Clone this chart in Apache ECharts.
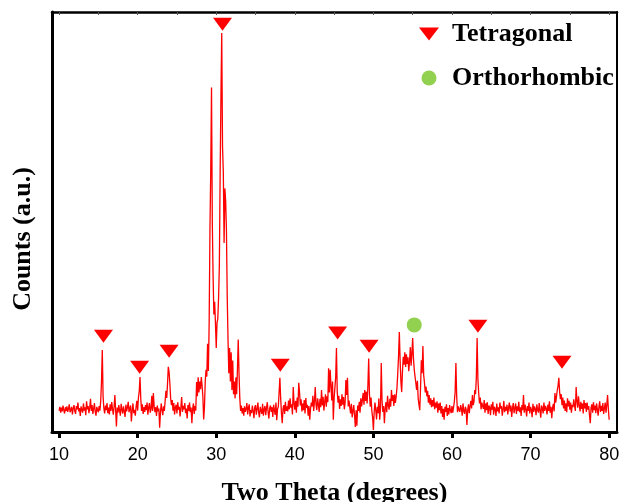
<!DOCTYPE html>
<html>
<head>
<meta charset="utf-8">
<script src="https://cdn.jsdelivr.net/npm/echarts@6/dist/echarts.min.js"></script>
<style>html,body{margin:0;padding:0;background:#fff}#c{width:620px;height:502px}</style>
</head>
<body>
<div id="c"></div>
<script>
// Sampling of the scan: 2θ from 10.0 to 80.0 in 0.1° steps
const scanStart = 10.0;
const scanStep = 0.1;
// Counts (arbitrary units), one row per degree (x.0 ... x.9)
const counts = [
  5.1,6.0,4.6,5.8,4.9,6.3,5.2,4.4,5.9,5.0,      // 10
  6.1,4.8,5.5,6.6,4.7,5.3,6.0,4.2,5.6,6.4,      // 11
  5.0,4.3,6.2,5.4,7.0,4.9,5.7,3.8,6.1,5.2,      // 12
  4.6,6.8,5.1,5.9,4.0,7.3,5.4,6.2,4.5,5.8,      // 13
  7.9,5.0,6.4,4.3,5.6,6.9,4.8,3.9,6.0,5.3,      // 14
  4.7,6.2,5.1,7.4,12.0,19.5,8.5,5.6,4.4,6.3,    // 15
  5.2,6.9,4.5,5.8,4.2,6.6,5.0,7.1,5.5,4.1,      // 16
  6.0,8.8,5.2,1.3,5.8,4.6,6.4,5.1,3.9,6.7,      // 17
  5.4,4.4,6.1,5.7,3.6,6.5,4.9,5.9,7.2,4.7,      // 18
  5.6,6.3,2.5,5.0,6.8,4.5,5.3,3.9,6.0,7.4,      // 19
  5.1,8.2,9.6,13.1,7.8,5.0,6.6,4.3,5.9,4.8,     // 20
  6.4,5.2,7.0,4.1,5.8,6.9,4.6,5.5,8.6,5.0,      // 21
  9.3,6.1,4.7,5.9,3.8,6.3,4.9,5.6,1.0,4.6,      // 22
  6.8,5.2,4.0,6.1,5.0,7.5,9.8,8.1,11.4,15.5,    // 23
  14.3,11.5,8.0,6.4,7.6,5.1,6.9,4.2,5.8,6.5,    // 24
  4.4,7.1,5.3,6.0,3.7,5.9,8.3,4.8,6.2,5.4,      // 25
  6.9,4.5,5.6,3.2,6.4,5.0,7.0,4.7,5.8,2.1,      // 26
  5.5,6.8,4.3,6.2,5.1,11.9,8.5,13.0,9.4,12.0,   // 27
  10.2,13.1,11.0,8.4,3.0,5.8,12.0,14.8,13.2,21.0, // 28
  14.5,26.0,48.0,62.0,82.0,50.0,37.0,28.0,31.0,26.0, // 29
  20.0,26.0,27.0,32.0,40.0,62.0,80.0,95.0,68.0,62.0, // 30
  45.0,58.0,55.0,48.0,32.0,22.0,14.0,20.0,12.0,19.0, // 31
  10.0,17.0,9.0,12.0,8.0,13.0,9.0,15.0,22.0,14.0,    // 32
  8.0,5.0,6.3,4.4,5.7,3.9,6.1,4.8,5.5,6.9,      // 33
  4.2,5.8,6.6,3.7,5.2,4.5,6.3,5.0,3.3,5.9,      // 34
  6.4,4.1,5.5,7.0,4.6,3.5,6.0,5.1,4.3,6.7,      // 35
  3.9,5.4,6.2,4.0,5.8,7.1,4.7,3.2,5.6,6.3,      // 36
  4.8,5.9,3.6,6.5,5.2,4.1,7.0,2.8,5.5,6.0,      // 37
  9.4,12.9,8.0,4.5,2.1,5.6,6.4,4.3,7.2,5.0,     // 38
  6.1,4.9,7.5,5.4,8.0,5.8,6.6,4.2,10.7,6.9,     // 39
  5.3,7.4,4.6,8.2,6.0,11.7,9.5,6.3,7.8,4.9,     // 40
  6.8,5.2,7.6,4.4,8.1,5.7,6.5,3.9,6.2,2.9,      // 41
  5.5,7.0,6.1,8.6,5.0,7.3,10.7,6.4,5.2,8.0,     // 42
  6.6,4.8,7.9,5.9,10.0,6.3,8.4,5.1,7.2,9.0,     // 43
  6.0,8.5,7.1,15.2,9.4,14.8,11.0,7.5,12.0,2.9,  // 44
  8.0,10.5,13.0,20.0,9.5,7.0,8.6,5.5,7.8,6.2,   // 45
  9.0,6.5,8.3,5.4,7.0,12.4,8.8,12.9,6.1,7.5,    // 46
  5.8,4.4,6.7,3.5,5.0,6.4,4.0,1.2,5.2,1.5,      // 47
  6.3,5.0,7.2,4.6,8.0,6.1,7.7,9.3,6.5,10.0,     // 48
  7.4,9.6,6.8,11.0,17.5,9.0,6.0,8.2,5.1,3.5,    // 49
  0.5,4.8,7.0,5.2,3.0,6.0,4.5,8.0,2.9,5.6,      // 50
  16.4,7.5,4.8,6.2,2.1,5.5,7.1,4.7,8.6,6.4,     // 51
  5.3,7.9,6.0,10.0,7.4,8.8,6.2,9.0,6.9,8.5,     // 52
  10.5,14.0,18.0,23.8,17.1,12.0,9.5,14.5,17.9,16.0, // 53
  19.0,15.5,18.5,16.2,17.8,14.5,16.8,20.2,15.8,18.6, // 54
  22.4,17.5,14.8,13.2,11.7,10.0,12.2,8.0,6.5,5.2,   // 55
  10.5,17.1,14.0,20.5,13.5,11.7,9.4,10.8,8.5,9.8,   // 56
  7.0,8.8,6.5,8.0,5.9,7.6,6.1,8.2,5.4,7.0,      // 57
  5.8,7.3,4.6,6.8,5.2,7.0,4.4,6.2,3.6,5.5,      // 58
  2.9,6.0,4.8,6.6,3.8,5.7,4.2,6.4,5.1,4.5,      // 59
  6.2,4.6,5.9,7.2,9.5,16.4,8.5,4.7,6.1,5.3,     // 60
  4.8,6.4,5.6,3.9,6.8,5.0,4.3,6.0,5.4,1.7,      // 61
  5.2,6.6,4.5,6.1,7.4,5.6,8.8,6.4,7.2,10.0,     // 62
  9.0,13.0,22.4,12.5,9.3,6.8,8.2,5.4,7.0,6.2,   // 63
  5.5,7.6,4.6,6.8,5.2,7.1,4.3,6.3,5.8,4.0,      // 64
  6.6,5.3,7.2,4.1,6.0,5.5,3.8,6.8,4.9,5.9,      // 65
  4.4,7.0,5.6,6.2,3.9,5.4,7.4,4.7,6.0,5.1,      // 66
  6.5,4.2,5.8,7.0,4.9,6.3,3.6,5.7,6.9,4.5,      // 67
  5.6,6.8,4.3,6.1,5.0,7.2,4.7,5.9,3.8,6.4,      // 68
  5.2,8.8,4.6,6.5,5.4,3.7,6.2,5.0,7.0,4.4,      // 69
  6.0,5.3,3.5,6.7,4.8,6.1,5.5,4.0,6.6,5.2,      // 70
  4.6,6.9,5.1,3.4,6.3,5.7,4.4,7.0,5.0,6.2,      // 71
  5.6,4.2,6.5,5.0,7.3,4.6,6.0,3.3,5.8,6.7,      // 72
  4.9,9.3,7.0,8.4,10.0,11.0,12.9,9.5,7.8,9.0,   // 73
  6.4,8.2,5.6,7.5,5.0,6.8,4.7,8.0,6.1,7.4,      // 74
  5.3,7.0,4.6,6.5,5.9,7.8,6.2,5.0,10.7,7.4,     // 75
  5.8,8.5,6.4,4.9,7.2,5.5,6.8,4.4,7.6,5.6,      // 76
  6.9,4.8,7.0,5.3,6.2,4.0,2.1,5.8,6.6,4.6,      // 77
  7.1,5.2,6.3,4.5,6.8,5.4,3.9,6.0,7.3,4.8,      // 78
  6.2,5.0,6.9,4.3,5.7,7.0,4.6,6.4,8.8,5.5,      // 79
  2.9                                           // 80.0
];

// Phase markers
const tetragonalTheta = [15.65, 20.25, 24.0, 30.8, 38.15, 45.45, 49.45, 63.3, 74.0];
const tetragonalLevel = [22.8, 15.4, 19.2, 97.1, 15.9, 23.6, 20.4, 25.2, 16.6];
const orthoTheta = [55.2];
const orthoLevel = [25.5];

// Axis ticks
const majorTicks = [10, 20, 30, 40, 50, 60, 70, 80];
const minorTicks = [10, 15, 20, 25, 30, 35, 40, 45, 50, 55, 60, 65, 70, 75, 80];
const xMin = 9.1, xMax = 81.0, yMin = 0, yMax = 100;

const scan = counts.map((c, i) => [+(scanStart + i * scanStep).toFixed(1), c]);
const tetra = tetragonalTheta.map((t, i) => [t, tetragonalLevel[i]]);
const ortho = orthoTheta.map((t, i) => [t, orthoLevel[i]]);

const serif = "'Liberation Serif','Times New Roman',serif";
const sans = "'Liberation Sans',Arial,sans-serif";
const triPath = 'path://M0,0L20,0L10,13Z';

const chart = echarts.init(document.getElementById('c'), null, {renderer: 'canvas'});
chart.setOption({
  animation: false,
  backgroundColor: '#fff',
  grid: {left: 52, right: 3, top: 12, bottom: 70, containLabel: false, outerBoundsMode: 'none'},
  legend: {
    orient: 'vertical', left: 414, top: 14,
    itemWidth: 20, itemHeight: 15, itemGap: 14,
    data: [{name: 'Tetragonal', icon: triPath}, {name: 'Orthorhombic', icon: 'circle'}],
    textStyle: {fontFamily: serif, fontWeight: 'bold', fontSize: 26, color: '#000', lineHeight: 30, padding: [0, 0, 0, 8]}
  },
  xAxis: [
    {
      type: 'value', position: 'bottom', min: xMin, max: xMax,
      name: 'Two Theta (degrees)', nameLocation: 'middle', nameGap: 48,
      nameTextStyle: {fontFamily: serif, fontWeight: 'bold', fontSize: 26, color: '#000'},
      axisLine: {show: true, onZero: false, lineStyle: {color: '#000', width: 3}},
      axisTick: {show: true, inside: false, length: 6, customValues: majorTicks, lineStyle: {color: '#000', width: 3}},
      axisLabel: {show: true, margin: 14, customValues: majorTicks, fontFamily: sans, fontSize: 18, color: '#000'},
      splitLine: {show: false}
    },
    {
      type: 'value', position: 'top', min: xMin, max: xMax,
      axisLine: {show: true, onZero: false, lineStyle: {color: '#000', width: 2.5}},
      axisTick: {show: true, inside: true, length: 3, customValues: minorTicks, lineStyle: {color: '#555', width: 1}},
      axisLabel: {show: false},
      splitLine: {show: false}
    }
  ],
  yAxis: [
    {
      type: 'value', position: 'left', min: yMin, max: yMax,
      name: 'Counts (a.u.)', nameLocation: 'middle', nameGap: 16,
      nameTextStyle: {fontFamily: serif, fontWeight: 'bold', fontSize: 26, color: '#000', padding: [0, 34, 0, 0]},
      axisLine: {show: true, onZero: false, lineStyle: {color: '#000', width: 3}},
      axisTick: {show: false}, axisLabel: {show: false}, splitLine: {show: false}
    },
    {
      type: 'value', position: 'right', min: yMin, max: yMax,
      axisLine: {show: true, onZero: false, lineStyle: {color: '#000', width: 2}},
      axisTick: {show: false}, axisLabel: {show: false}, splitLine: {show: false}
    }
  ],
  series: [
    {
      name: 'scan', type: 'line', data: scan, showSymbol: false, symbol: 'none',
      lineStyle: {color: '#ff0000', width: 1.3}, itemStyle: {color: '#ff0000'}, z: 2
    },
    {
      name: 'Tetragonal', type: 'scatter', data: tetra, symbol: triPath, symbolSize: [19, 13],
      itemStyle: {color: '#ff0000', opacity: 1}, z: 3
    },
    {
      name: 'Orthorhombic', type: 'scatter', data: ortho, symbol: 'circle', symbolSize: 15,
      itemStyle: {color: '#92d050', opacity: 1}, z: 3
    }
  ]
});
</script>
</body>
</html>
